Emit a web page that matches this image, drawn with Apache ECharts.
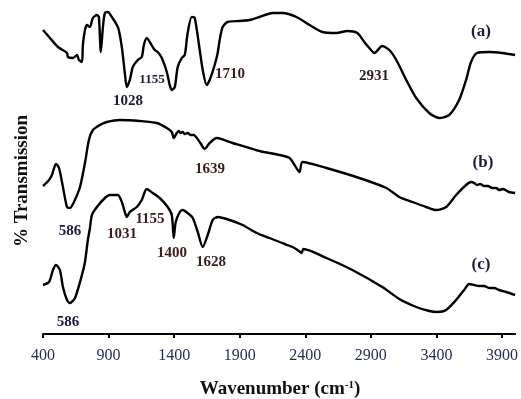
<!DOCTYPE html>
<html>
<head>
<meta charset="utf-8">
<script src="https://cdn.jsdelivr.net/npm/echarts@6/dist/echarts.min.js"></script>
<style>html,body{margin:0;padding:0;background:#fff}#c{width:521px;height:399px}</style>
</head>
<body>
<div id="c"></div>
<script>
// Wavenumbers (cm-1) and transmission (arbitrary offset units)
var wnA = [400,453,514,583,590,628,659,674,697,704,720,735,758,780,811,826,841,857,872,895,925,963,978,1001,1024,1039,1062,1085,1123,1153,1169,1191,1214,1252,1275,1306,1344,1366,1382,1405,1427,1458,1481,1503,1534,1557,1595,1618,1648,1671,1709,1732,1747,1770,1808,1899,1975,2051,2150,2226,2333,2432,2531,2637,2721,2797,2850,2888,2927,2987,3041,3094,3170,3246,3345,3421,3497,3573,3626,3664,3710,3802,3901,4000];
var tA = [304,296,287,281,277,276,279,274,272,289,304,309,307,316,319,317,282,307,321,322,317,309,304,287,261,247,254,267,274,277,289,296,292,284,282,276,262,249,244,247,267,276,279,301,317,316,284,264,249,254,269,281,294,307,312,313,314,317,321,321,317,309,302,301,303,301,292,286,281,288,284,274,254,236,221,216,219,234,254,272,281,282,281,279];

var wnB = [400,446,468,499,522,552,583,605,636,682,720,750,781,834,887,986,1138,1268,1344,1382,1397,1420,1435,1450,1465,1481,1503,1526,1549,1595,1633,1671,1724,1846,2051,2204,2280,2318,2356,2379,2561,2812,3018,3117,3216,3322,3398,3474,3550,3626,3664,3688,3710,3733,3764,3794,3825,3855,3878,3908,3954,4000];
var tB = [148,154,159,170,166,147,127,126,132,147,171,194,204,209,212,214,213,211,206,202,196,201,203,201,202,200,201,199,199,192,185,191,196,191,183,179,176,169,162,172,166,156,146,137,132,127,124,127,139,149,152,151,149,150,148,148,146,146,144,145,142,141];

var wnC = [400,446,476,499,529,552,583,605,644,697,720,742,758,773,811,872,910,971,1001,1024,1039,1062,1115,1153,1191,1237,1290,1351,1382,1397,1412,1443,1465,1503,1542,1580,1618,1656,1694,1732,1823,1922,2029,2127,2204,2303,2341,2371,2386,2561,2759,2987,3117,3246,3345,3406,3474,3550,3611,3649,3688,3726,3764,3802,3840,3878,3931,4000];
var tC = [49,52,64,69,64,47,34,31,36,59,72,94,106,119,127,136,139,139,132,122,117,122,127,134,145,141,136,127,119,96,112,122,124,121,116,102,87,99,114,117,114,109,101,96,92,87,84,81,85,76,64,47,35,27,23,22,24,34,44,50,49,48,48,46,46,44,42,39];

var xTicks = [400,900,1400,1900,2400,2900,3400,3900];
var peakLabels = ['1028','1155','1710','2931','1639','586','1031','1155','1400','1628','586'];
var curveLabels = ['(a)','(b)','(c)'];
var xTitle = 'Wavenumber (cm';
var xTitleSup = '-1';
var yTitle = '% Transmission';

function zip(a,b){return a.map(function(v,i){return [v,b[i]];});}

var chart = echarts.init(document.getElementById('c'), null, {renderer:'canvas'});
var serif = '"Liberation Serif","Times New Roman",serif';
var lineStyle = {color:'#000', width:2.4};
function ser(d){return {type:'line', data:d, showSymbol:false, smooth:0.25, lineStyle:lineStyle, silent:true};}

var pk = [
  [peakLabels[0],128,101,'#1c1c3c'],[peakLabels[1],152,80,'#1c1c3c'],[peakLabels[2],230,74,'#3c1c1c'],
  [peakLabels[3],374,76,'#2c1c1c'],[peakLabels[4],210,169,'#3c1c1c'],[peakLabels[5],70,231,'#1c1c3c'],
  [peakLabels[6],122,234,'#3c1c1c'],[peakLabels[7],150,219,'#3c1c1c'],[peakLabels[8],172,253,'#3c1c1c'],
  [peakLabels[9],211,262,'#3c1c1c'],[peakLabels[10],68,322,'#1c1c3c']
];
var graphics = pk.map(function(p,i){
  return {type:'text', x:p[1], y:p[2], style:{text:p[0], font:'bold '+(i===1?'13px ':'15px ')+serif, fill:p[3], align:'center', verticalAlign:'middle'}};
});
[[curveLabels[0],481,32],[curveLabels[1],483,163],[curveLabels[2],481,265]].forEach(function(p){
  graphics.push({type:'text', x:p[1], y:p[2], style:{text:p[0], font:'bold 17px '+serif, fill:'#1c1c3c', align:'center', verticalAlign:'middle'}});
});
graphics.push({type:'text', x:280, y:389, style:{
  text:'{a|'+xTitle+'}{s|'+xTitleSup+'}{a|)}', align:'center', verticalAlign:'middle',
  rich:{a:{font:'bold 19px '+serif, fill:'#111'}, s:{font:'bold 11px '+serif, fill:'#111', verticalAlign:'top', padding:[0,0,8,0]}}
}});
graphics.push({type:'text', x:22, y:181, rotation:Math.PI/2, style:{text:yTitle, font:'bold 19px '+serif, fill:'#111', align:'center', verticalAlign:'middle'}});

chart.setOption({
  animation:false,
  grid:{left:43, right:5, top:1, bottom:65, containLabel:false},
  xAxis:{type:'value', min:400, max:4000,
    axisLine:{show:true, onZero:false, lineStyle:{color:'#000', width:2}},
    axisTick:{show:true, customValues:xTicks, length:4, lineStyle:{color:'#000', width:2}},
    axisLabel:{customValues:xTicks, fontFamily:serif, fontSize:16, color:'#223050', margin:14,
      formatter:function(v){return String(v);}},
    splitLine:{show:false}},
  yAxis:{type:'value', min:0, max:333, show:false, splitLine:{show:false}},
  series:[ser(zip(wnA,tA)), ser(zip(wnB,tB)), ser(zip(wnC,tC))],
  graphic:graphics
});
</script>
</body>
</html>
